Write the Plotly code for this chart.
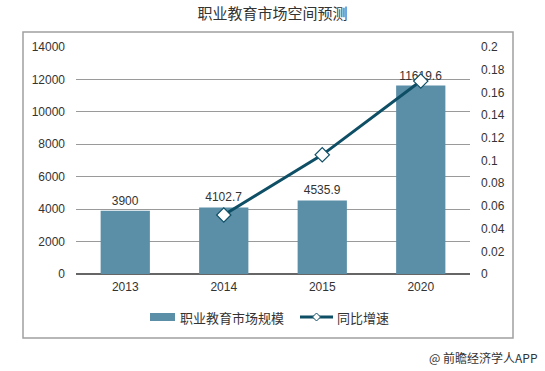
import plotly.graph_objects as go

categories = ["2013", "2014", "2015", "2020"]
market_size = [3900, 4102.7, 4535.9, 11619.6]
market_labels = ["3900", "4102.7", "4535.9", "11619.6"]
growth_years = ["2014", "2015", "2020"]
growth_rate = [0.052, 0.105, 0.170]
left_ticks = [0, 2000, 4000, 6000, 8000, 10000, 12000, 14000]
left_tick_text = ["0", "2000", "4000", "6000", "8000", "10000", "12000", "14000"]
right_ticks = [0, 0.02, 0.04, 0.06, 0.08, 0.1, 0.12, 0.14, 0.16, 0.18, 0.2]
right_tick_text = ["0", "0.02", "0.04", "0.06", "0.08", "0.1", "0.12", "0.14", "0.16", "0.18", "0.2"]
legend_names = ["职业教育市场规模", "同比增速"]

FONT = "Liberation Sans, Arial, Noto Sans CJK SC, sans-serif"
CJK = "Noto Sans CJK SC, Liberation Sans, sans-serif"
BAR_COLOR = "#5B8FA8"
LINE_COLOR = "#0E4F66"

# plot area in pixels
PL, PR, PT, PB = 76, 470, 47, 274
PW, PH = PR - PL, PB - PT


def px(x):
    return (x - PL) / PW


def py(y):
    return (PB - y) / PH


fig = go.Figure()
fig.add_trace(go.Bar(
    x=categories, y=market_size, name=legend_names[0],
    marker=dict(color=BAR_COLOR, line=dict(width=0)),
    width=0.5,
    text=market_labels, textposition="outside", cliponaxis=False,
    textfont=dict(size=12, color="#333333", family=FONT),
    showlegend=False,
))
fig.add_trace(go.Scatter(
    x=growth_years, y=growth_rate, name=legend_names[1], yaxis="y2",
    mode="lines+markers",
    line=dict(color=LINE_COLOR, width=3),
    marker=dict(symbol="diamond", size=11, color="white",
                line=dict(color=LINE_COLOR, width=1.2)),
    cliponaxis=False, showlegend=False,
))

fig.update_layout(
    width=545, height=371,
    margin=dict(l=PL, r=545 - PR, t=PT, b=371 - PB),
    paper_bgcolor="white", plot_bgcolor="white",
    font=dict(family=FONT, size=12, color="#333333"),
    title=dict(text="职业教育市场空间预测", x=0.5, xanchor="center",
               y=1 - 14 / 371, yanchor="middle",
               font=dict(family=CJK, size=15, color="#333333")),
    bargap=0.5,
    xaxis=dict(type="category", showgrid=False, showline=False, ticks="",
               zeroline=False, tickfont=dict(size=12, color="#333333"),
               ticklabelstandoff=4),
    yaxis=dict(range=[0, 14000], tickvals=left_ticks, ticktext=left_tick_text,
               showgrid=True, gridcolor="#9A9A9A", gridwidth=1, zeroline=True,
               zerolinecolor="#666666", zerolinewidth=2, showline=False,
               ticks="", tickfont=dict(size=12, color="#333333"),
               ticklabelstandoff=10),
    yaxis2=dict(range=[0, 0.2], tickvals=right_ticks, ticktext=right_tick_text,
                overlaying="y", side="right", showgrid=False, zeroline=False,
                showline=False, ticks="", tickfont=dict(size=12, color="#333333"),
                ticklabelstandoff=10),
)

# outer frame
fig.add_shape(type="rect", xref="paper", yref="paper",
              x0=px(23), x1=px(513), y0=py(338), y1=py(32),
              line=dict(color="#A0A0A0", width=1.5), fillcolor="rgba(0,0,0,0)",
              layer="below")

# custom legend
LY = 317
fig.add_shape(type="rect", xref="paper", yref="paper",
              x0=px(150), x1=px(175), y0=py(LY + 4), y1=py(LY - 4),
              line=dict(width=0), fillcolor=BAR_COLOR)
fig.add_annotation(text=legend_names[0], xref="paper", yref="paper",
                   x=px(178), xanchor="left", y=py(LY), yanchor="middle",
                   showarrow=False,
                   font=dict(family=CJK, size=13, color="#333333"))
fig.add_shape(type="line", xref="paper", yref="paper",
              x0=px(300), x1=px(333), y0=py(LY), y1=py(LY),
              line=dict(color=LINE_COLOR, width=3))
d = 4
fig.add_shape(type="path", xref="paper", yref="paper",
              path=(f"M {px(316.5 - d)} {py(LY)} L {px(316.5)} {py(LY - d)} "
                    f"L {px(316.5 + d)} {py(LY)} L {px(316.5)} {py(LY + d)} Z"),
              line=dict(color=LINE_COLOR, width=1), fillcolor="white")
fig.add_annotation(text=legend_names[1], xref="paper", yref="paper",
                   x=px(335), xanchor="left", y=py(LY), yanchor="middle",
                   showarrow=False,
                   font=dict(family=CJK, size=13, color="#333333"))

fig.add_annotation(text="@ 前瞻经济学人APP", xref="paper", yref="paper",
                   x=px(540), xanchor="right",
                   y=py(357), yanchor="middle", showarrow=False,
                   font=dict(family=CJK, size=12, color="#333333"))

fig.write_html("out.html", config={"displayModeBar": False},
               post_script="document.body.style.margin='0';")
